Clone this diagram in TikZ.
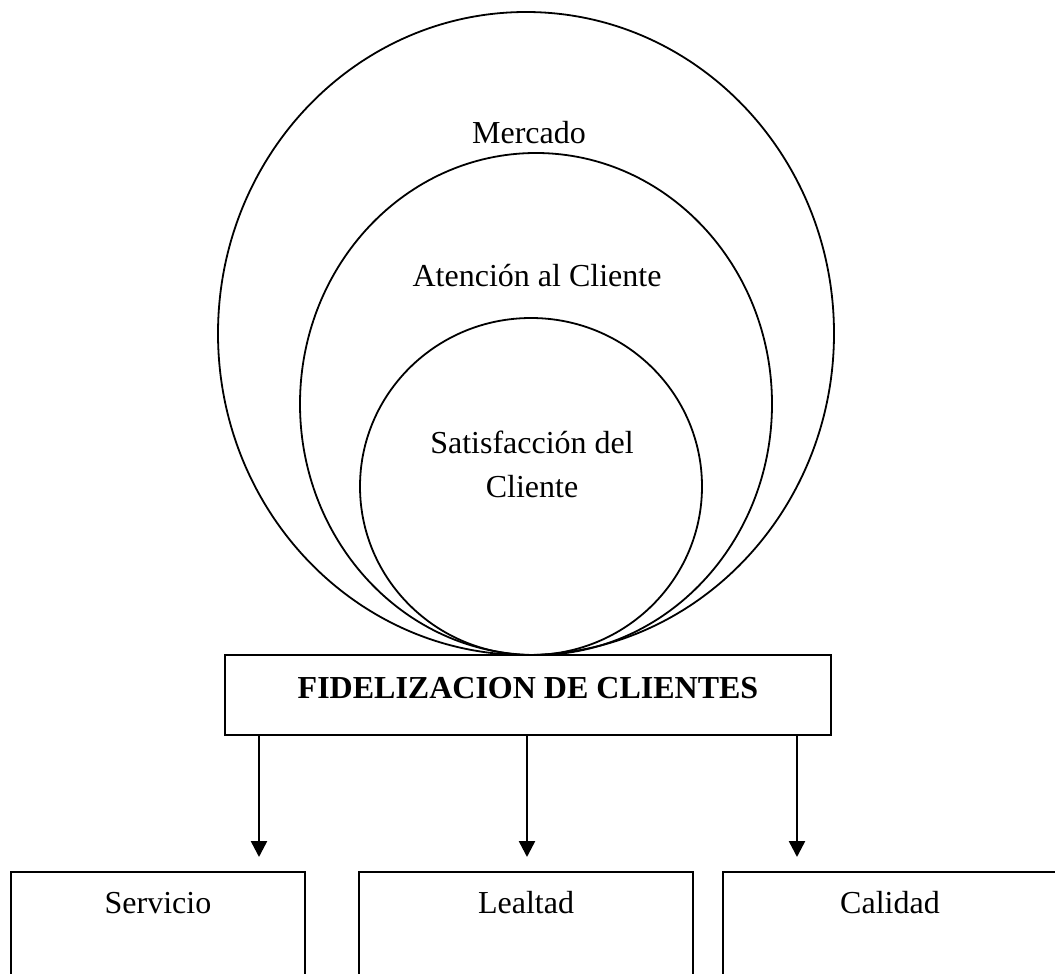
\documentclass[tikz,border=0pt]{standalone}
\usepackage{fontspec}
\setmainfont{Liberation Serif}
\usetikzlibrary{shapes.geometric,arrows.meta}
\begin{document}
\begin{tikzpicture}[x=1pt,y=-1pt,
  ring/.style={draw,ellipse,line width=1.8pt,inner sep=0pt},
  frame/.style={draw,rectangle,line width=2pt,inner sep=0pt},
  lbl/.style={font=\fontsize{32}{44}\selectfont,inner sep=0pt,align=center},
  arr/.style={line width=2.5pt,-{Triangle[length=16pt,width=16pt]}}]
\useasboundingbox (0,0) rectangle (1055,974);
% nested circles
\node[ring,minimum width=616pt,minimum height=643pt] (mercado) at (526,333.5) {};
\node[ring,minimum width=472pt,minimum height=502pt] (atencion) at (536,404) {};
\node[ring,minimum width=342pt,minimum height=337pt] (satisf) at (531,486.5) {};
\node[lbl] (tm) at (529,133) {Mercado};
\node[lbl] (ta) at (537,276) {Atención al Cliente};
\node[lbl] (ts) at (532,464) {Satisfacción del\\Cliente};
% main box
\node[frame,minimum width=606pt,minimum height=80pt] (fid) at (528,695) {};
\node[lbl,font=\fontsize{32}{38}\selectfont\bfseries] (tf) at (528,688) {FIDELIZACION DE CLIENTES};
% bottom boxes (run past the lower edge)
\node[frame,minimum width=294pt,minimum height=140pt] (serv) at (158,942) {};
\node[frame,minimum width=334pt,minimum height=140pt] (leal) at (526,942) {};
\node[frame,minimum width=334pt,minimum height=140pt] (cal) at (890,942) {};
\node[lbl] (tsv) at (158,903) {Servicio};
\node[lbl] (tl) at (526,903) {Lealtad};
\node[lbl] (tc) at (890,903) {Calidad};
% arrows
\coordinate (a1) at (259,857);
\coordinate (a2) at (527,857);
\coordinate (a3) at (797,857);
\draw[arr] (fid.south -| a1) -- (a1);
\draw[arr] (fid.south -| a2) -- (a2);
\draw[arr] (fid.south -| a3) -- (a3);
\end{tikzpicture}
\end{document}
